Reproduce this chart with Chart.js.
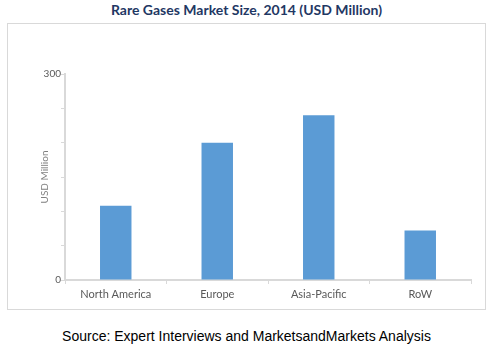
<!DOCTYPE html>
<html>
<head>
<meta charset="utf-8">
<script src="https://cdn.jsdelivr.net/npm/chart.js@4"></script>
<style>
  html, body { margin: 0; padding: 0; background: #fff; }
  body { width: 493px; height: 348px; position: relative; overflow: hidden; }
  #title {
    position: absolute; left: 0; top: 1px; width: 493px; text-align: center;
    font: bold 14px Lato, sans-serif; color: #1f3864;
  }
  #box {
    position: absolute; left: 7px; top: 23px; width: 477px; height: 285px;
    border: 1px solid #d9d9d9;
  }
  #source {
    position: absolute; left: 0; top: 328px; width: 493px; text-align: center;
    font: 14px "Liberation Sans", Arial, sans-serif; color: #000;
  }
</style>
</head>
<body>
<div id="title">Rare Gases Market Size, 2014 (USD Million)</div>
<div id="box"><canvas id="chart" width="477" height="285"></canvas></div>
<div id="source">Source: Expert Interviews and MarketsandMarkets Analysis</div>
<script>
const regions = ['North America', 'Europe', 'Asia-Pacific', 'RoW']
const marketSize = [108, 200, 240, 72]
const shownTicks = [0, 300]

const ctx = document.getElementById('chart').getContext('2d')

new Chart(ctx, {
  type: 'bar',
  data: {
    labels: regions,
    datasets: [
      {
        label: 'Market Size',
        data: marketSize,
        backgroundColor: '#5b9bd5',
        borderWidth: 0,
        categoryPercentage: 1,
        barPercentage: 0.31
      }
    ]
  },
  options: {
    responsive: false,
    animation: false,
    layout: {
      padding: { left: 31, top: 50, right: 14, bottom: 0 }
    },
    scales: {
      y: {
        min: 0,
        max: 300,
        afterFit: function (scale) { scale.width = 26 },
        border: { color: '#d9d9d9', width: 2 },
        grid: { drawOnChartArea: false, tickLength: 4, color: '#d9d9d9' },
        ticks: {
          stepSize: 50,
          padding: 0,
          color: '#595959',
          font: { family: 'Lato', size: 10 },
          callback: function (value) {
            return shownTicks.includes(value) ? value : ''
          }
        },
        title: {
          display: true,
          text: 'USD Million',
          color: '#7f7f7f',
          font: { family: 'Lato', size: 10 },
          padding: { top: 0, bottom: 0 }
        }
      },
      x: {
        afterFit: function (scale) { scale.height = 29 },
        border: { color: '#d9d9d9', width: 2 },
        grid: { drawOnChartArea: false, tickLength: 4, color: '#d9d9d9' },
        ticks: {
          color: '#595959',
          padding: 4,
          font: { family: 'Lato', size: 11 }
        }
      }
    },
    plugins: {
      legend: { display: false },
      tooltip: { enabled: false }
    }
  }
})
</script>
</body>
</html>
